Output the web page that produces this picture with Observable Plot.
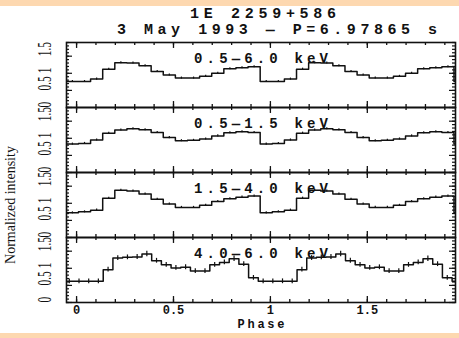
<!DOCTYPE html>
<html><head><meta charset="utf-8">
<script src="https://cdn.jsdelivr.net/npm/d3@7"></script>
<script src="https://cdn.jsdelivr.net/npm/@observablehq/plot@0.6"></script>
<style>
html,body{margin:0;padding:0;background:#fff;}
#chart{position:relative;width:459px;height:338px;overflow:hidden;}
</style></head><body><div id="chart"></div>
<script>
// ---- data ----
const bands = ["0.5—6.0 keV", "0.5—1.5 keV", "1.5—4.0 keV", "4.0—6.0 keV"];
const binsPerCycle = [16, 16, 16, 20];
const firstBinCentre = [0.041, 0.041, 0.041, 0.0125];

const profile1 = [0.76, 0.83, 1.12, 1.31, 1.30, 1.22, 1.05, 0.95, 0.86, 0.86, 0.91, 1.00, 1.13, 1.16, 1.19, 0.76];
const profile2 = [0.85, 0.95, 1.15, 1.24, 1.28, 1.25, 1.17, 1.02, 0.93, 0.94, 0.98, 1.07, 1.16, 1.19, 1.17, 0.83];
const profile3 = [0.75, 0.80, 1.15, 1.38, 1.36, 1.27, 1.12, 0.98, 0.88, 0.88, 0.94, 1.05, 1.13, 1.18, 1.21, 0.72];
const profile4 = [0.62, 0.62, 0.62, 0.96, 1.30, 1.32, 1.33, 1.42, 1.22, 1.10, 1.01, 1.03, 0.92, 0.92, 1.10, 1.17, 1.28, 1.12, 0.72, 0.62];

const error1 = [0.03, 0.03, 0.03, 0.03, 0.03, 0.03, 0.03, 0.03, 0.03, 0.03, 0.03, 0.03, 0.03, 0.03, 0.03, 0.03];
const error2 = [0.03, 0.03, 0.03, 0.03, 0.03, 0.03, 0.03, 0.03, 0.03, 0.03, 0.03, 0.03, 0.03, 0.03, 0.03, 0.03];
const error3 = [0.03, 0.03, 0.03, 0.03, 0.03, 0.03, 0.03, 0.03, 0.03, 0.03, 0.03, 0.03, 0.03, 0.03, 0.03, 0.03];
const error4 = [0.07, 0.07, 0.07, 0.07, 0.07, 0.07, 0.07, 0.08, 0.07, 0.07, 0.07, 0.07, 0.07, 0.07, 0.07, 0.07, 0.08, 0.07, 0.07, 0.07];

const xMajorTicks = [0, 0.5, 1, 1.5];
const xTickLabels = ["0", "0.5", "1", "1.5"];
const xMinorTicks = [0, 0.1, 0.2, 0.3, 0.4, 0.5, 0.6, 0.7, 0.8, 0.9, 1, 1.1, 1.2, 1.3, 1.4, 1.5, 1.6, 1.7, 1.8, 1.9];
const yMajorTicks = [0, 0.5, 1, 1.5];
const yTickLabels = ["0", "0.5", "1", "1.5"];
const yMinorTicks = [0, 0.1, 0.2, 0.3, 0.4, 0.5, 0.6, 0.7, 0.8, 0.9, 1, 1.1, 1.2, 1.3, 1.4, 1.5, 1.6, 1.7, 1.8, 1.9];

const title = "1E 2259+586";
const subtitle = "3 May 1993 — P=6.97865 s";
const xLabel = "Phase";
const yLabel = "Normalized intensity";

// ---- build table: the folded profile is shown over two cycles ----
const profiles = [profile1, profile2, profile3, profile4];
const errors = [error1, error2, error3, error4];
const rows = [];
bands.forEach((band, b) => {
  const n = binsPerCycle[b];
  for (let cycle = -1; cycle <= 2; cycle++) {
    profiles[b].forEach((v, k) => {
      const phase = cycle + firstBinCentre[b] + k / n;
      if (phase > -0.2 && phase < 2.2) rows.push({band, phase, value: v, err: errors[b][k]});
    });
  }
});

const xDomain = [-0.052, 1.955];
const yDomain = [0, 1.9];
const x0 = xDomain[0], x1 = xDomain[1], y0 = yDomain[0], y1 = yDomain[1];
const pxX = 389 / (x1 - x0), pxY = 65.5 / (y1 - y0);
const lastBand = bands[bands.length - 1];
const mono = "'Liberation Mono', 'Courier New', monospace";
const serif = "'Liberation Serif', 'Times New Roman', serif";
const serifY = "'Liberation Serif', serif";

const plot = Plot.plot({
  width: 459, height: 338,
  marginLeft: 66, marginRight: 4, marginTop: 41, marginBottom: 35,
  x: {domain: xDomain, axis: null},
  y: {domain: yDomain, axis: null},
  fy: {domain: bands, padding: 0, axis: null},
  style: {background: "transparent", overflow: "visible"},
  marks: [
    Plot.line(rows, {x: "phase", y: "value", fy: "band", curve: "step", stroke: "#111", strokeWidth: 1.5, clip: true}),
    Plot.ruleX(rows, {x: "phase", y1: d => d.value - d.err, y2: d => d.value + d.err, fy: "band", stroke: "#111", strokeWidth: 1.2, clip: true}),
    // x ticks bottom / top of each panel
    Plot.ruleX(xMinorTicks, {x: d => d, y1: y0, y2: y0 + 3 / pxY, stroke: "#111", strokeWidth: 1.3}),
    Plot.ruleX(xMinorTicks, {x: d => d, y1: y1 - 3 / pxY, y2: y1, stroke: "#111", strokeWidth: 1.3}),
    Plot.ruleX(xMajorTicks, {x: d => d, y1: y0, y2: y0 + 6 / pxY, stroke: "#111", strokeWidth: 1.3}),
    Plot.ruleX(xMajorTicks, {x: d => d, y1: y1 - 6 / pxY, y2: y1, stroke: "#111", strokeWidth: 1.3}),
    // y ticks left / right
    Plot.ruleY(yMinorTicks, {y: d => d, x1: x0, x2: x0 + 3 / pxX, stroke: "#111", strokeWidth: 1.2}),
    Plot.ruleY(yMinorTicks, {y: d => d, x1: x1 - 3 / pxX, x2: x1, stroke: "#111", strokeWidth: 1.2}),
    Plot.ruleY(yMajorTicks, {y: d => d, x1: x0, x2: x0 + 6 / pxX, stroke: "#111", strokeWidth: 1.2}),
    Plot.ruleY(yMajorTicks, {y: d => d, x1: x1 - 6 / pxX, x2: x1, stroke: "#111", strokeWidth: 1.2}),
    Plot.frame({stroke: "#111", strokeWidth: 1.6}),
    // band labels
    Plot.text(bands, {fy: d => d, text: d => d, frameAnchor: "top", dy: 11, fontFamily: mono, fontWeight: "bold", fontSize: 14, fill: "#111"}),
    // y tick labels
    Plot.text(yMajorTicks, {y: d => d, text: (d, i) => yTickLabels[i], frameAnchor: "left", dx: -21, rotate: -90, fontFamily: serifY, fontSize: 18, fill: "#111"}),
    // x tick labels (bottom panel)
    Plot.text(xMajorTicks, {x: d => d, fy: () => lastBand, text: (d, i) => xTickLabels[i], frameAnchor: "bottom", dy: 11, fontFamily: mono, fontWeight: "bold", fontSize: 12, fill: "#111"}),
    Plot.text([xLabel], {fy: () => lastBand, text: d => d, frameAnchor: "bottom", dy: 25.5, fontFamily: mono, fontWeight: "bold", fontSize: 12, fill: "#111"})
  ]
});

const chart = document.getElementById("chart");
chart.appendChild(plot);
const svg = d3.select(plot);
// widen band labels and Phase like the typewriter lettering of the original
svg.selectAll("text").filter(function () { return bands.includes(this.textContent); })
  .attr("textLength", 134).attr("lengthAdjust", "spacing");
svg.selectAll("text").filter(function () { return this.textContent === xLabel; })
  .attr("textLength", 47).attr("lengthAdjust", "spacing");
// condense the rotated serif tick labels
svg.selectAll(`g[font-family="${serifY}"] text`).each(function () {
  const t = this.getAttribute("transform") || "";
  this.setAttribute("transform", t + " scale(0.62,1)");
});
// peach page bands
svg.insert("rect", ":first-child").attr("x", 0).attr("y", 0).attr("width", 459).attr("height", 6).attr("fill", "#fdd8b0");
svg.insert("rect", ":first-child").attr("x", 0).attr("y", 333).attr("width", 459).attr("height", 5).attr("fill", "#fdd8b0");
svg.append("text").text(title).attr("x", 190).attr("y", 14).attr("dominant-baseline", "middle").attr("text-anchor", "start")
  .attr("textLength", 146).attr("lengthAdjust", "spacing")
  .attr("font-family", mono).attr("font-weight", "bold").attr("font-size", 15).attr("fill", "#111");
svg.append("text").text(subtitle).attr("x", 117).attr("y", 30).attr("dominant-baseline", "middle").attr("text-anchor", "start")
  .attr("textLength", 320).attr("lengthAdjust", "spacing")
  .attr("font-family", mono).attr("font-weight", "bold").attr("font-size", 15).attr("fill", "#111");
svg.append("text").text(yLabel).attr("transform", "translate(12,205) rotate(-90)").attr("text-anchor", "middle").attr("dominant-baseline", "middle")
  .attr("font-family", serif).attr("font-size", 14).attr("fill", "#111");
</script></body></html>
